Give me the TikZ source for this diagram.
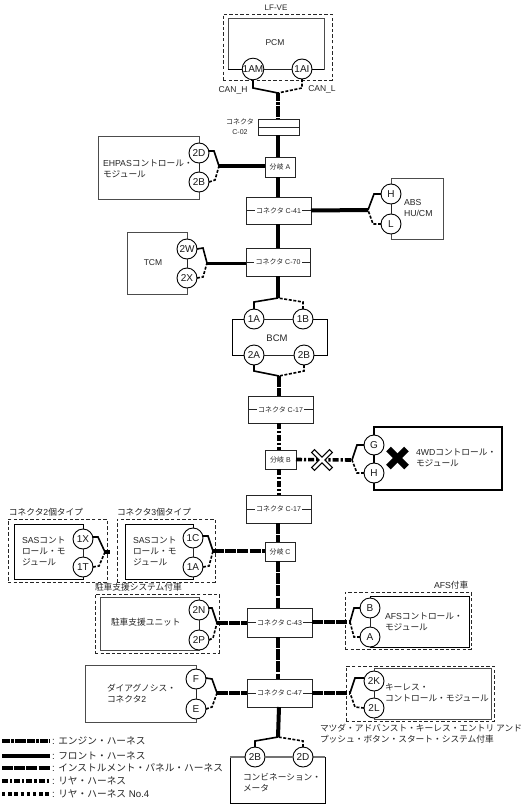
\documentclass[tikz,border=0pt]{standalone}
\usepackage{fontspec}
\setmainfont{Liberation Sans}
\newfontfamily\cjk{Noto Sans CJK JP}
\newcommand{\J}[1]{{\cjk #1}}
\tikzset{
  x=1pt,y=-1pt,
  every node/.style={inner sep=0pt,outer sep=0pt},
  txt/.style={anchor=west,align=left,font=\fontsize{8.7}{11}\selectfont,text=black!85},
  ctxt/.style={align=center,font=\fontsize{8.5}{11}\selectfont,text=black!85},
  small/.style={align=center,font=\fontsize{7}{10}\selectfont,text=black!85},
  legtxt/.style={anchor=west,font=\fontsize{9.7}{11}\selectfont,text=black!85},
  modbox/.style={draw=black!70,line width=1,fill=white},
  blackbox/.style={draw=black,line width=0.9,fill=white},
  fatbox/.style={draw=black,line width=2.2,fill=white},
  conbox/.style={draw=black!85,line width=1,fill=white},
  conlabel/.style={fill=white,inner xsep=1.5pt,inner ysep=1pt,font=\fontsize{7}{9}\selectfont,text=black!85},
  pin/.style={circle,draw=black,line width=0.9,fill=white,minimum size=20pt,font=\fontsize{10}{10}\selectfont,text=black!90},
  pinline/.style={draw=black!85,line width=0.8},
  grayline/.style={draw=black!55,line width=1.1},
  dashbox/.style={draw=black!85,line width=0.95,dash pattern=on 3.4pt off 2.2pt},
  sigH/.style={draw=black,line width=1.6,line join=miter},
  sigL/.style={draw=black,line width=1.6,dash pattern=on 3pt off 1.6pt},
  engine/.style={draw=black,line width=4,dash pattern=on 8pt off 0.8pt on 3pt off 0.8pt},
  front/.style={draw=black,line width=4},
  panel/.style={draw=black,line width=4,dash pattern=on 11pt off 1.2pt},
  rear/.style={draw=black,line width=4,dash pattern=on 6pt off 2pt on 2.2pt off 2pt},
  rearfour/.style={draw=black,line width=3.6,dash pattern=on 3.4pt off 2.8pt},
}
% \bx{style}{name}{x1}{y1}{x2}{y2}
\newcommand{\bx}[6]{\node[#1,minimum width={#5pt-#3pt},minimum height={#6pt-#4pt}] (#2) at ({(#3+#5)/2},{(#4+#6)/2}) {};}
% connector box with a through line and its label
\newcommand{\cbx}[6]{\bx{conbox}{#1}{#2}{#3}{#4}{#5}
  \draw[pinline] (#1.west) -- (#1.east);
  \node[conlabel] (#1t) at (#1) {#6};}
\begin{document}
\begin{tikzpicture}
\useasboundingbox (0,0) rectangle (531,806);
\fill[white] (0,0) rectangle (531,806);

% ---------- dashed enclosures
\bx{dashbox}{dPCM}{223}{14}{332}{80}
\bx{dashbox}{dSAStwo}{8}{519}{107}{582}
\bx{dashbox}{dSASthree}{117}{519}{215}{582}
\bx{dashbox}{dPark}{95}{594}{219}{653}
\bx{dashbox}{dAFS}{345}{592}{471}{649}
\bx{dashbox}{dKey}{346}{666}{494}{721}

% ---------- module boxes
\bx{modbox}{mPCM}{228}{18}{324}{69}
\bx{modbox}{mEH}{98}{136}{199}{199}
\bx{modbox}{mABS}{391}{178}{443}{239}
\bx{modbox}{mTCM}{127}{232}{187}{294}
\bx{blackbox}{mBCM}{232}{319}{327}{355}
\bx{fatbox}{m4WD}{374}{427}{502}{490}
\bx{blackbox}{mSAStwo}{14}{524}{83}{579}
\bx{blackbox}{mSASthree}{125}{524}{193}{579}
\bx{modbox}{mPark}{100}{597}{199}{650}
\bx{blackbox}{mAFS}{370}{596}{469}{647}
\bx{modbox}{mKey}{374}{668}{491}{719}
\bx{modbox}{mDiag}{85}{665}{196}{722}
\bx{blackbox}{mMeter}{230}{757}{325}{803}
\draw[grayline] (mMeter.north west) -- (mMeter.north east);
\draw[pinline,draw=black] (mPCM.south west) -- (mPCM.south east);

% ---------- pins
\node[pin] (pAM) at (253,69) {1AM};
\node[pin] (pAI) at (302,69) {1AI};
\node[pin] (pD) at (199,153) {2D};
\node[pin] (pB) at (199,182) {2B};
\node[pin] (pH) at (391,194) {H};
\node[pin] (pL) at (391,224) {L};
\node[pin] (pW) at (187,249) {2W};
\node[pin] (pX) at (187,278) {2X};
\node[pin] (pOA) at (254,319) {1A};
\node[pin] (pOB) at (303,319) {1B};
\node[pin] (pTA) at (254,355) {2A};
\node[pin] (pTB) at (304,355) {2B};
\node[pin] (pG) at (374,445) {G};
\node[pin] (pHH) at (374,473) {H};
\node[pin] (pX1) at (83,539) {1X};
\node[pin] (pT1) at (83,567) {1T};
\node[pin] (pC1) at (193,538) {1C};
\node[pin] (pA1) at (193,567) {1A};
\node[pin] (pN) at (199,610) {2N};
\node[pin] (pP) at (199,640) {2P};
\node[pin] (pBB) at (370,608) {B};
\node[pin] (pAA) at (370,637) {A};
\node[pin] (pK) at (374,681) {2K};
\node[pin] (pLL) at (374,708) {2L};
\node[pin] (pF) at (196,679) {F};
\node[pin] (pE) at (196,709) {E};
\node[pin] (pMB) at (255,757) {2B};
\node[pin] (pMD) at (303,757) {2D};

% pin-to-pin lines
\foreach \a/\b in {pD/pB,pH/pL,pW/pX,pX1/pT1,pC1/pA1,pN/pP,pBB/pAA,pK/pLL,pF/pE}
  \draw[pinline] (\a.south) -- (\b.north);
\draw[pinline,line width=1.4,draw=black] (pG.south) -- (pHH.north);
\foreach \a/\b in {pAM/pAI,pOA/pOB,pTA/pTB}
  \draw[pinline] (\a.east) -- (\b.west);
\draw[grayline] (pMB.east) -- (pMD.west);

% ---------- connector boxes
\bx{conbox}{cTwo}{258}{119}{299}{135}
\draw[conbox] (cTwo.west) -- (cTwo.east);
\node[small] (cTwoL) at (240,127) {\J{コネクタ}\\C-02};
\bx{conbox}{brA}{265}{157}{295}{177}
\node[conlabel] (brAt) at (brA) {\J{分岐} A};
\cbx{cFortyOne}{246}{197}{311}{224}{\J{コネクタ} C-41}
\cbx{cSeventy}{246}{248}{310}{276}{\J{コネクタ} C-70}
\cbx{cSevenA}{248}{396}{313}{423}{\J{コネクタ} C-17}
\bx{conbox}{brB}{265}{450}{296}{469}
\node[conlabel] (brBt) at (brB) {\J{分岐} B};
\cbx{cSevenB}{246}{495}{311}{523}{\J{コネクタ} C-17}
\bx{conbox}{brC}{265}{542}{295}{561}
\node[conlabel] (brCt) at (brC) {\J{分岐} C};
\cbx{cFortyThree}{247}{608}{312}{637}{\J{コネクタ} C-43}
\cbx{cFortySeven}{247}{679}{312}{707}{\J{コネクタ} C-47}

% ---------- junctions
\coordinate (jPCM) at (278,93);
\coordinate (jEH) at (219,166);
\coordinate (jABS) at (368,210);
\coordinate (jTCM) at (207,263);
\coordinate (jBCMa) at (278,298);
\coordinate (jBCMb) at (279,376);
\coordinate (j4WD) at (352,460);
\coordinate (jSAStwo) at (105,552);
\coordinate (jSAStwoE) at (110,552);
\coordinate (jSASthree) at (213,551);
\coordinate (jPark) at (217,623);
\coordinate (jAFS) at (350,622);
\coordinate (jKey) at (350,693);
\coordinate (jDiag) at (217,693);
\coordinate (jMeter) at (278,737);

% ---------- main harness
\draw[engine] (jPCM) -- (278,118.5);
\draw[front] (278,135) -- (278,157);
\draw[front] (278,177) -- (278,197);
\draw[front] (278,224) -- (278,248);
\draw[front] (278,276) -- (jBCMa);
\draw[panel] (jBCMb) -- (279,396);
\draw[rear] (279,423) -- (279,450);
\draw[rear] (279,469) -- (279,495);
\draw[panel] (278,523) -- (278,542);
\draw[panel] (278,561) -- (278,608);
\draw[panel] (278,637) -- (278,679);
\draw[front] (279,707) -- (jMeter);

% ---------- branches
\draw[front,line width=3.4] (jEH) -- (brA.west |- jEH);
\draw[front] (cFortyOne.east) -- (jABS);
\draw[front,line width=3] (jTCM) -- (cSeventy.west |- jTCM);
\draw[rear,line width=3.6] (brB.east) -- (j4WD);
\draw[front] (jSAStwo) -- (jSAStwoE);
\draw[panel,line width=3.6] (jSASthree) -- (brC.west |- jSASthree);
\draw[panel,line width=3.6] (jPark) -- (cFortyThree.west |- jPark);
\draw[panel,line width=3.6] (cFortyThree.east |- jAFS) -- (jAFS);
\draw[panel,line width=3.6] (cFortySeven.east |- jKey) -- (jKey);
\draw[panel,line width=3.6] (jDiag) -- (cFortySeven.west |- jDiag);

% ---------- pin signal lines
\draw[sigH] (pAM.south) -- (253,88) -- (jPCM);
\draw[sigL] (pAI.south) -- (302,88) -- (jPCM);
\draw[sigH] (pD.east) ++(0,-2) -- (214,151) -- (jEH);
\draw[sigL] (pB.east) -- (215,180) -- (jEH);
\draw[sigH] (pH.west) -- (374,194) -- (jABS);
\draw[sigL] (pL.west) -- (373,224) -- (jABS);
\draw[sigH] (pW.east) -- (203,248) -- (jTCM);
\draw[sigL] (pX.east) -- (203,277) -- (jTCM);
\draw[sigH] (pOA.north) -- (254,302) -- (jBCMa);
\draw[sigL] (pOB.north) -- (303,302) -- (jBCMa);
\draw[sigH] (pTA.south) -- (254,371) -- (jBCMb);
\draw[sigL] (pTB.south) -- (304,371) -- (jBCMb);
\draw[sigH] (pG.west) -- (357,445) -- (j4WD);
\draw[sigL] (pHH.west) -- (357,473) -- (j4WD);
\draw[sigH] (pX1.east) ++(0,-2) -- (98,537) -- (jSAStwo);
\draw[sigL] (pT1.east) -- (99,566) -- (jSAStwo);
\draw[sigH] (pC1.east) ++(0,-2) -- (208,536) -- (jSASthree);
\draw[sigL] (pA1.east) -- (209,566) -- (jSASthree);
\draw[sigH] (pN.east) ++(0,-2) -- (212,608) -- (jPark);
\draw[sigL] (pP.east) -- (213,638) -- (jPark);
\draw[sigH] (pBB.west) -- (354,608) -- (jAFS);
\draw[sigL] (pAA.west) -- (354,637) -- (jAFS);
\draw[sigH] (pK.west) ++(0,-3) -- (355,678) -- (jKey);
\draw[sigL] (pLL.west) -- (355,707) -- (jKey);
\draw[sigH] (pF.east) ++(0,-1) -- (212,679) -- (jDiag);
\draw[sigL] (pE.east) -- (212,707) -- (jDiag);
\draw[sigH] (pMB.north) -- (255,741) -- (jMeter);
\draw[sigL] (pMD.north) -- (303,741) -- (jMeter);

% ---------- crossings
\coordinate (xA) at (322,460);
\draw[black,line width=5,line cap=rect] ([shift={(-7.5,-7.5)}]xA) -- ([shift={(7.5,7.5)}]xA);
\draw[black,line width=5,line cap=rect] ([shift={(-7.5,7.5)}]xA) -- ([shift={(7.5,-7.5)}]xA);
\draw[white,line width=2.8,line cap=rect] ([shift={(-7.5,-7.5)}]xA) -- ([shift={(7.5,7.5)}]xA);
\draw[white,line width=2.8,line cap=rect] ([shift={(-7.5,7.5)}]xA) -- ([shift={(7.5,-7.5)}]xA);
\coordinate (xB) at (397.5,458);
\draw[black,line width=6.5] ([shift={(-9,-9)}]xB) -- ([shift={(9,9)}]xB);
\draw[black,line width=6.5] ([shift={(-9,9)}]xB) -- ([shift={(9,-9)}]xB);

% ---------- texts
\node[small,font=\fontsize{8}{10}\selectfont] (tLF) at (276,7.5) {LF-VE};
\node[ctxt] (tPCM) at (275,43) {PCM};
\node[ctxt] (tCH) at (233,90) {CAN\_H};
\node[ctxt] (tCL) at (322,89.5) {CAN\_L};
\node[txt] (tEH) at (103,169) {EHPAS\J{コントロール・}\\\J{モジュール}};
\node[txt] (tABS) at (404,208) {ABS\\HU/CM};
\node[ctxt] (tTCM) at (153,263) {TCM};
\node[ctxt,font=\fontsize{9.5}{11}\selectfont] (tBCM) at (277,338) {BCM};
\node[txt] (t4WD) at (416,457.5) {4WD\J{コントロール・}\\\J{モジュール}};
\node[txt] (tSt) at (22,551) {SAS\J{コント}\\\J{ロール・モ}\\\J{ジュール}};
\node[txt] (tSth) at (133,551) {SAS\J{コント}\\\J{ロール・モ}\\\J{ジュール}};
\node[txt] (lSt) at (9,512) {\J{コネクタ}2\J{個タイプ}};
\node[txt] (lSth) at (117,512) {\J{コネクタ}3\J{個タイプ}};
\node[txt] (lPk) at (95,587) {\J{駐車支援システム付車}};
\node[txt] (tPk) at (111,622) {\J{駐車支援ユニット}};
\node[txt] (lAFS) at (434,585) {AFS\J{付車}};
\node[txt] (tAFS) at (385,621.5) {AFS\J{コントロール・}\\\J{モジュール}};
\node[txt] (tKey) at (385,692.5) {\J{キーレス・}\\\J{コントロール・モジュール}};
\node[txt] (tDg) at (107,693.5) {\J{ダイアグノシス・}\\\J{コネクタ}2};
\node[txt] (tMaz) at (320,733.5) {\J{マツダ・アドバンスト・キーレス・エントリ アンド}\\\J{プッシュ・ボタン・スタート・システム付車}};
\node[txt] (tMt) at (243,782.5) {\J{コンビネーション・}\\\J{メータ}};

% ---------- legend
\foreach \y/\s/\t [count=\i] in {741/engine/{エンジン・ハーネス},756/front/{フロント・ハーネス},768/panel/{インストルメント・パネル・ハーネス},781/rear/{リヤ・ハーネス}}{
  \coordinate (la\i) at (2,\y);
  \coordinate (lb\i) at (50,\y);
  \draw[\s] (la\i) -- (lb\i);
  \node[legtxt] (lt\i) at (52,\y) {: \J{\t}};
}
\coordinate (la5) at (2,794);
\coordinate (lb5) at (50,794);
\draw[rearfour] (la5) -- (lb5);
\node[legtxt] (lt5) at (52,794) {: \J{リヤ・ハーネス} No.4};
\end{tikzpicture}
\end{document}
